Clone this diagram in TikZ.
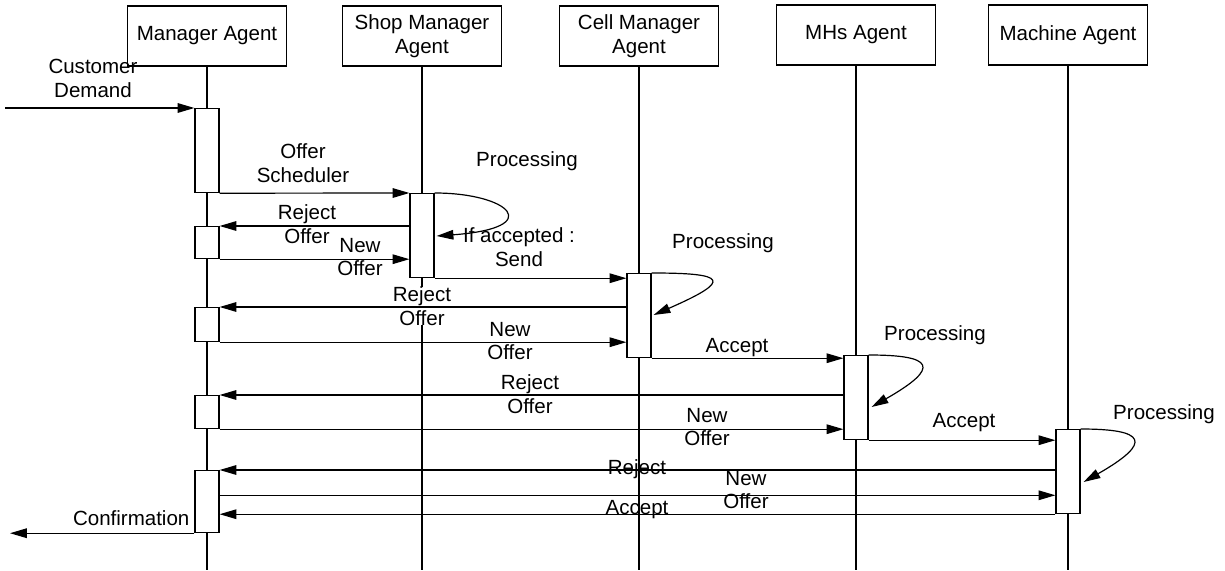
\documentclass[tikz,border=0pt]{standalone}
\usepackage{fontspec}
\setmainfont{Liberation Sans}
\usetikzlibrary{arrows.meta,calc}

\begin{document}
\begin{tikzpicture}[
		x=0.025cm,
		y=-0.025cm,
		font=\fontsize{14.6}{17}\selectfont,
		line width=0.85pt,
		>={Triangle[length=0.42cm,width=0.24cm]},
		agent/.style={draw, minimum width=3.975cm, minimum height=1.5cm, align=center, inner sep=1pt},
		act/.style={draw, fill=white, minimum width=0.6cm, anchor=north, inner sep=0pt},
		msg/.style={->},
		lbl/.style={align=center, inner sep=0pt}
		]
		
		\useasboundingbox (0,0) rectangle (1225,571);
		
		% agent heads
		\node[agent] (mgr)  at (207,36)  {Manager Agent};
		\node[agent] (shop) at (422,36)  {Shop Manager\\Agent};
		\node[agent] (cell) at (639,36)  {Cell Manager\\Agent};
		\node[agent] (mhs)  at (856,35)  {MHs Agent};
		\node[agent] (mac)  at (1068,35) {Machine Agent};
		
		% lifelines
		\foreach \n in {mgr,shop,cell,mhs,mac}
		\draw (\n.south) -- (\n.south |- 0,570);
		
		% activations
		\node[act, minimum height=2.1cm]   (mgrA)  at (mgr.south |- 0,108)  {};
		\node[act, minimum height=0.8cm]   (mgrB)  at (mgr.south |- 0,226)  {};
		\node[act, minimum height=0.85cm]  (mgrC)  at (mgr.south |- 0,307)  {};
		\node[act, minimum height=0.825cm] (mgrD)  at (mgr.south |- 0,395)  {};
		\node[act, minimum height=1.55cm]  (mgrE)  at (mgr.south |- 0,470)  {};
		\node[act, minimum height=2.1cm]   (shopA) at (shop.south |- 0,193) {};
		\node[act, minimum height=2.1cm]   (cellA) at (cell.south |- 0,273) {};
		\node[act, minimum height=2.1cm]   (mhsA)  at (mhs.south |- 0,355)  {};
		\node[act, minimum height=2.1cm]   (macA)  at (mac.south |- 0,429)  {};
		
		% labels
		\node[lbl] (lCust)  at (93,78)    {Customer\\Demand};
		\node[lbl] (lOffer) at (303,163)  {Offer\\Scheduler};
		\node[lbl] (lRejB)  at (307,224)  {Reject\\Offer};
		\node[lbl] (lNewB)  at (360,257)  {New\\Offer};
		\node[lbl] (lProcS) at (527,161)  {Processing};
		\node[lbl] (lSend)  at (519,247)  {If accepted :\\Send};
		\node[lbl] (lProcC) at (723,243)  {Processing};
		\node[lbl, fill=white] (lRejC) at (422,306) {Reject\\Offer};
		\node[lbl] (lNewC)  at (510,341)  {New\\Offer};
		\node[lbl] (lAccC)  at (737,348)  {Accept};
		\node[lbl] (lProcM) at (935,335)  {Processing};
		\node[lbl] (lRejD)  at (530,394)  {Reject\\Offer};
		\node[lbl] (lNewD)  at (707,427)  {New\\Offer};
		\node[lbl] (lAccD)  at (964,423)  {Accept};
		\node[lbl] (lProcX) at (1164,414) {Processing};
		\node[lbl] (lRejE)  at (637,469)  {Reject};
		\node[lbl] (lNewE)  at (746,490)  {New\\Offer};
		\node[lbl] (lAccE)  at (637,510)  {Accept};
		\node[lbl, anchor=east] (lConf) at (190,518) {Confirmation};
		
		% messages
		\coordinate (cust) at (5,108);
		\coordinate (conf) at (mgrE.south west -| 10,0);
		\coordinate (newE) at ($(mgrE.north east)!0.4!(mgrE.south east)$);
		
		\draw[msg] (cust) -- (mgrA.north west);
		\draw[msg] (mgrA.south east) -- (shopA.north west);
		\draw[msg] (shopA.west |- mgrB.north) -- (mgrB.north east);
		\draw[msg] (mgrB.south east) -- (shopA.west |- mgrB.south);
		\draw[msg] (shopA.south east) -- (cellA.west |- shopA.south);
		\draw[msg] (cellA.west |- mgrC.north) -- (mgrC.north east);
		\draw[msg] (mgrC.south east) -- (cellA.west |- mgrC.south);
		\draw[msg] (cellA.south east) -- (mhsA.west |- cellA.south);
		\draw[msg] (mhsA.west |- mgrD.north) -- (mgrD.north east);
		\draw[msg] (mgrD.south east) -- (mhsA.west |- mgrD.south);
		\draw[msg] (mhsA.south east) -- (macA.west |- mhsA.south);
		\draw[msg] (macA.west |- mgrE.north) -- (mgrE.north east);
		\draw[msg] (newE) -- (macA.west |- newE);
		\draw[msg] (macA.south west) -- (mgrE.east |- macA.south);
		\draw[msg] (mgrE.south west) -- (conf);
		
		% processing loops
		\draw[msg] (shopA.north east) .. controls +(75,0) and +(110,-8) .. ($(shopA.north east)+(2,43)$);
		\draw[msg] (cellA.north east) .. controls +(75,0) and +(80,-35) .. ($(cellA.north east)+(2,42)$);
		\draw[msg] (mhsA.north east) .. controls +(65,0) and +(70,-40) .. ($(mhsA.north east)+(3,52)$);
		\draw[msg] (macA.north east) .. controls +(65,0) and +(70,-40) .. ($(macA.north east)+(3,53)$);
		
	\end{tikzpicture}
\end{document}
